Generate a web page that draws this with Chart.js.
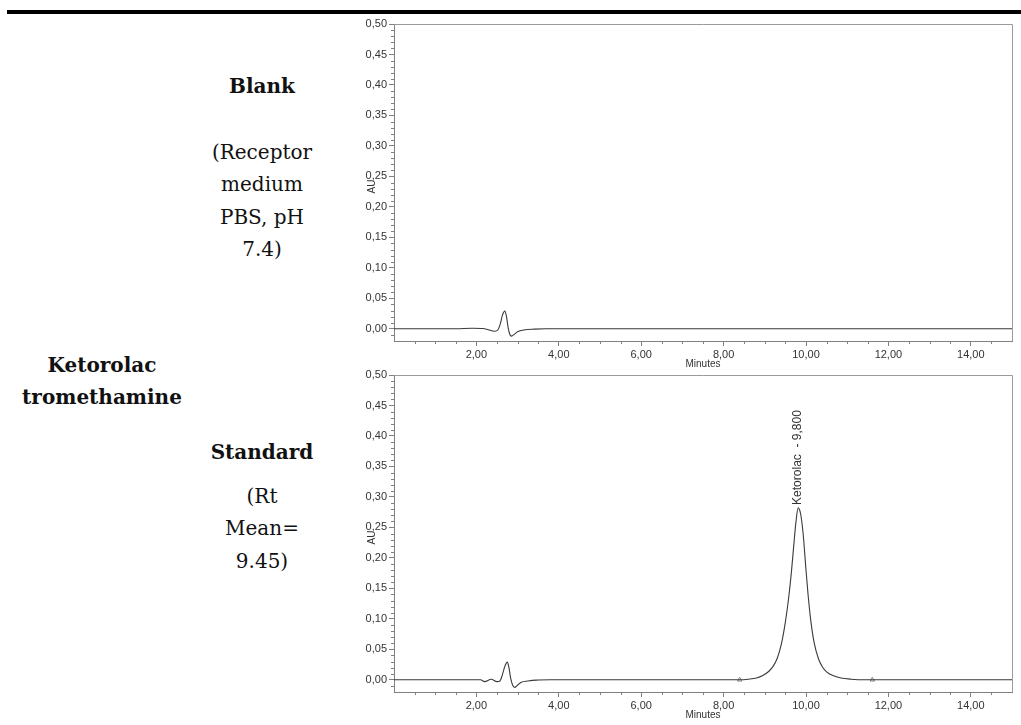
<!DOCTYPE html>
<html><head><meta charset="utf-8">
<script src="https://cdn.jsdelivr.net/npm/chart.js@4.4.1/dist/chart.umd.min.js"></script>
<style>
html,body{margin:0;padding:0;background:#fff;width:1021px;height:725px;overflow:hidden;position:relative}
.bar{position:absolute;left:7px;top:10px;width:1014px;height:4px;background:#000}
.t{position:absolute;transform:translate(-50%,-50%);font-family:"DejaVu Serif",serif;font-size:20px;color:#111;white-space:nowrap;line-height:1}
.b{font-weight:bold}
canvas{position:absolute}
</style></head><body>
<div class="bar"></div>
<div class="t b" style="left:262px;top:86px">Blank</div>
<div class="t" style="left:262px;top:152px">(Receptor</div>
<div class="t" style="left:262px;top:184px">medium</div>
<div class="t" style="left:262px;top:217px">PBS, pH</div>
<div class="t" style="left:262px;top:249px">7.4)</div>
<div class="t b" style="left:102px;top:365px">Ketorolac</div>
<div class="t b" style="left:102px;top:397px">tromethamine</div>
<div class="t b" style="left:262px;top:452px">Standard</div>
<div class="t" style="left:262px;top:496px">(Rt</div>
<div class="t" style="left:262px;top:528px">Mean=</div>
<div class="t" style="left:262px;top:561px">9.45)</div>
<canvas id="c1" width="681" height="357" style="left:340px;top:15px;width:681px;height:357px"></canvas>
<canvas id="c2" width="681" height="357" style="left:340px;top:366px;width:681px;height:357px"></canvas>
<script>
// ---- data ----
const blankTime = [0, 1.5, 1.9, 2.2, 2.45, 2.52, 2.58, 2.63, 2.69, 2.73, 2.77, 2.81, 2.85, 2.9, 3.0, 3.15, 3.4, 3.7, 15];
const blankAU   = [0, 0, 0.0008, 0, -0.004, -0.002, 0.008, 0.022, 0.029, 0.020, 0.002, -0.009, -0.012, -0.010, -0.005, -0.002, -0.0005, 0, 0];

const stdTime = [0, 1.9, 2.1, 2.2, 2.36, 2.5, 2.57, 2.63, 2.69, 2.75, 2.79, 2.83, 2.88, 2.93, 2.98, 3.09, 3.25, 3.45, 3.8, 8.0, 8.4, 8.6, 8.8, 8.95, 9.1, 9.2, 9.3, 9.4, 9.5, 9.58, 9.65, 9.7, 9.75, 9.81, 9.87, 9.93, 10.0, 10.05, 10.12, 10.2, 10.3, 10.4, 10.5, 10.65, 10.85, 11.1, 11.4, 15];
const stdAU   = [0, 0, 0, -0.003, 0.0008, -0.003, -0.002, 0.008, 0.022, 0.029, 0.020, 0.003, -0.009, -0.0125, -0.010, -0.004, -0.002, -0.0005, 0, 0, 0, 0.001, 0.003, 0.007, 0.014, 0.022, 0.035, 0.058, 0.095, 0.135, 0.180, 0.218, 0.255, 0.282, 0.272, 0.240, 0.180, 0.140, 0.095, 0.060, 0.035, 0.021, 0.013, 0.007, 0.003, 0.001, 0, 0];

const markerTime = [8.39, 11.61];
const markerAU   = [0, 0];

const peakNames   = ["Ketorolac  - 9,800"];
const peakTimes   = [9.8];
const peakHeights = [0.282];

const xTickValues = [2, 4, 6, 8, 10, 12, 14];
const yTickValues = [0, 0.05, 0.10, 0.15, 0.20, 0.25, 0.30, 0.35, 0.40, 0.45, 0.50];
const xMinorStep = 0.5, yMinorStep = 0.01;
const yAxisTitle = 'AU', xAxisTitle = 'Minutes';

Chart.defaults.font.family = '"Liberation Sans", Arial, sans-serif';
const fmt = v => Number(v).toFixed(2).replace('.', ',');
const AXIS = '#808080';

const framePlugin = {
  id: 'frame',
  afterDraw(chart) {
    const {ctx, chartArea: a, scales: {x, y}} = chart;
    ctx.save();
    ctx.strokeStyle = '#9a9a9a'; ctx.lineWidth = 1;
    ctx.beginPath();
    ctx.moveTo(a.left, Math.round(a.top) + 0.5); ctx.lineTo(Math.round(a.right) + 0.5, Math.round(a.top) + 0.5);
    ctx.lineTo(Math.round(a.right) + 0.5, a.bottom);
    ctx.stroke();
    // minor ticks
    ctx.strokeStyle = AXIS;
    ctx.beginPath();
    for (let v = xMinorStep; v < x.max; v += xMinorStep) {
      const vv = Math.round(v * 100) / 100;
      if (xTickValues.includes(vv)) continue;
      const px = Math.round(x.getPixelForValue(vv)) + 0.5;
      ctx.moveTo(px, a.bottom); ctx.lineTo(px, a.bottom + 3);
    }
    for (let k = -1; k < 50; k++) {
      const vv = Math.round(k * yMinorStep * 1000) / 1000;
      if (yTickValues.some(t => Math.abs(t - vv) < 1e-9)) continue;
      const py = Math.round(y.getPixelForValue(vv)) + 0.5;
      ctx.moveTo(a.left, py); ctx.lineTo(a.left - 3, py);
    }
    ctx.stroke();
    // y axis title
    ctx.fillStyle = '#333';
    ctx.font = '10px "Liberation Sans", Arial, sans-serif';
    ctx.textAlign = 'center'; ctx.textBaseline = 'middle';
    ctx.translate(a.left - 22, (a.top + a.bottom) / 2 + 4);
    ctx.rotate(-Math.PI / 2);
    ctx.fillText(yAxisTitle, 0, 0);
    ctx.restore();
  }
};

const peakLabelPlugin = {
  id: 'peakLabel',
  afterDatasetsDraw(chart, args, opts) {
    if (!opts || !opts.names) return;
    const {ctx, scales: {x, y}} = chart;
    ctx.save();
    ctx.fillStyle = '#333';
    ctx.font = '12px "Liberation Sans", Arial, sans-serif';
    ctx.textAlign = 'left';
    ctx.textBaseline = 'middle';
    opts.names.forEach((n, i) => {
      const px = x.getPixelForValue(opts.times[i]);
      const py = y.getPixelForValue(opts.heights[i]) - 3;
      ctx.save();
      ctx.translate(px, py);
      ctx.rotate(-Math.PI / 2);
      ctx.fillText(n, 0, 0);
      ctx.restore();
    });
    ctx.restore();
  }
};

function makeChart(id, times, values, withMarkers, labels) {
  const datasets = [{
    data: times.map((t, i) => ({x: t, y: values[i]})),
    borderColor: '#3a3a3a', borderWidth: 1.1, pointRadius: 0,
    cubicInterpolationMode: 'monotone', fill: false
  }];
  if (withMarkers) {
    datasets.push({
      data: markerTime.map((t, i) => ({x: t, y: markerAU[i]})),
      showLine: false, pointStyle: 'triangle', pointRadius: 2.5,
      borderColor: '#666', backgroundColor: '#fff', borderWidth: 0.8
    });
  }
  return new Chart(document.getElementById(id), {
    type: 'line',
    data: {datasets},
    options: {
      responsive: false, animation: false, devicePixelRatio: 1,
      layout: {padding: {top: 9, left: 9, right: 9, bottom: 0}},
      plugins: {legend: {display: false}, tooltip: {enabled: false}, peakLabel: labels},
      scales: {
        x: {
          type: 'linear', min: 0, max: 15,
          afterBuildTicks: s => { s.ticks = xTickValues.map(v => ({value: v})); },
          afterFit: s => { s.height = 31; },
          grid: {drawOnChartArea: false, drawTicks: true, tickLength: 5, color: AXIS},
          border: {color: AXIS},
          ticks: {padding: 2, maxRotation: 0, autoSkip: false, color: '#333', font: {size: 11}, callback: v => fmt(v)},
          title: {display: true, text: xAxisTitle, color: '#333', font: {size: 10}, padding: {top: 0, bottom: 2}}
        },
        y: {
          type: 'linear', min: -0.02, max: 0.5,
          afterBuildTicks: s => { s.ticks = yTickValues.map(v => ({value: v})); },
          afterFit: s => { s.width = 45; },
          grid: {drawOnChartArea: false, drawTicks: true, tickLength: 5, color: AXIS},
          border: {color: AXIS},
          ticks: {padding: 2, autoSkip: false, color: '#333', font: {size: 11}, callback: v => fmt(v)},
          title: {display: false}
        }
      }
    },
    plugins: [framePlugin, peakLabelPlugin]
  });
}

makeChart('c1', blankTime, blankAU, false, {});
makeChart('c2', stdTime, stdAU, true, {names: peakNames, times: peakTimes, heights: peakHeights});
</script>
</body></html>
